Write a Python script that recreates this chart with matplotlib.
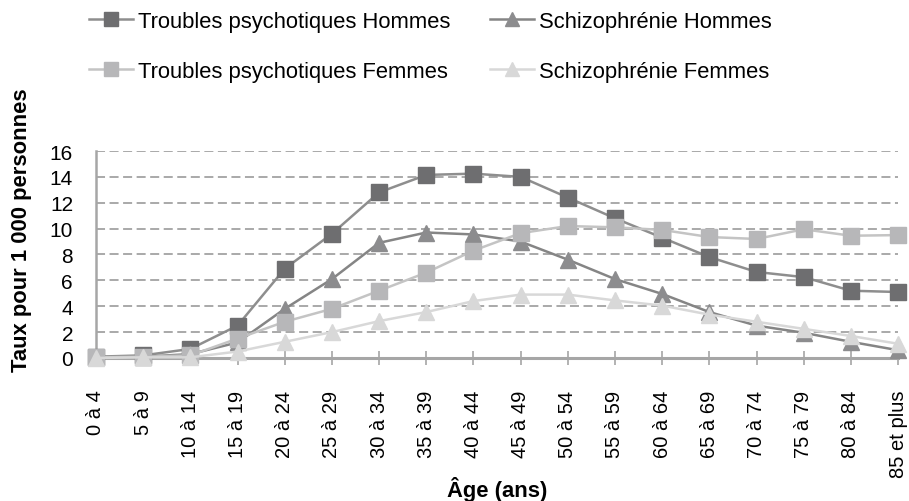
import matplotlib.pyplot as plt

plt.rcParams['font.family'] = ['Liberation Sans', 'DejaVu Sans']

# Age groups
ages = ['0 à 4', '5 à 9', '10 à 14', '15 à 19', '20 à 24', '25 à 29', '30 à 34',
        '35 à 39', '40 à 44', '45 à 49', '50 à 54', '55 à 59', '60 à 64',
        '65 à 69', '70 à 74', '75 à 79', '80 à 84', '85 et plus']

# Rates per 1 000 persons
troubles_hommes = [0.1, 0.2, 0.7, 2.5, 6.9, 9.6, 12.8, 14.15, 14.25, 14.0, 12.4,
                   10.8, 9.3, 7.8, 6.65, 6.25, 5.2, 5.1]
schizo_hommes = [0.05, 0.1, 0.3, 1.2, 3.8, 6.1, 8.9, 9.7, 9.55, 9.0, 7.6,
                 6.1, 4.95, 3.55, 2.5, 1.95, 1.25, 0.6]
troubles_femmes = [0.05, 0.1, 0.2, 1.5, 2.8, 3.8, 5.2, 6.6, 8.3, 9.65, 10.2,
                   10.1, 9.9, 9.35, 9.2, 9.95, 9.45, 9.5]
schizo_femmes = [0.0, 0.05, 0.05, 0.5, 1.25, 2.0, 2.85, 3.55, 4.4, 4.9, 4.9,
                 4.45, 4.05, 3.35, 2.8, 2.25, 1.7, 1.1]

x = list(range(len(ages)))

fig = plt.figure(figsize=(9.09, 5.02), dpi=100)
ax = fig.add_axes([0.1056, 0.2849, 0.8824, 0.4123])

l1, = ax.plot(x, troubles_hommes, color='#8e8e8e', lw=1.8, marker='s', ms=12,
              mfc='#6e6e70', mec='#6e6e70', clip_on=False, zorder=3)
l2, = ax.plot(x, schizo_hommes, color='#858585', lw=1.8, marker='^', ms=12,
              mfc='#8c8c8e', mec='#8c8c8e', clip_on=False, zorder=3)
l3, = ax.plot(x, troubles_femmes, color='#c4c4c4', lw=1.8, marker='s', ms=12,
              mfc='#b7b7b9', mec='#b7b7b9', clip_on=False, zorder=3)
l4, = ax.plot(x, schizo_femmes, color='#d8d8d8', lw=1.8, marker='^', ms=12,
              mfc='#d8d8d8', mec='#d8d8d8', clip_on=False, zorder=3)

ax.set_xlim(0, len(ages) - 1)
ax.set_ylim(0, 16)
ax.set_yticks(range(0, 17, 2))
ax.set_xticks(x)
ax.set_xticklabels(ages, rotation=90, ha='center', va='top')

ax.tick_params(axis='x', direction='inout', length=9.5, width=1.2, color='#a6a6a6',
               labelsize=14.5, pad=18)
ax.tick_params(axis='y', length=0, labelsize=15, pad=16.5)

ax.grid(axis='y', color='#a3a3a3', lw=1.3, linestyle=(0, (5, 2.5)))
ax.set_axisbelow(True)
for s in ['top', 'right']:
    ax.spines[s].set_visible(False)
ax.spines['left'].set_color('#a6a6a6')
ax.spines['left'].set_linewidth(1.8)
ax.spines['bottom'].set_color('#a6a6a6')
ax.spines['bottom'].set_linewidth(2.2)

fig.text(22 / 909, 1 - 230 / 502, 'Taux pour 1 000 personnes', rotation=90,
         ha='center', va='center', fontsize=15.8, fontweight='bold')
fig.text(497 / 909, 1 - 497 / 502, 'Âge (ans)', ha='center', va='baseline',
         fontsize=15.8, fontweight='bold')

fig.legend([l1, l3, l2, l4],
           ['Troubles psychotiques Hommes', 'Troubles psychotiques Femmes',
            'Schizophrénie Hommes', 'Schizophrénie Femmes'],
           ncol=2, loc='upper left', bbox_to_anchor=(89 / 909, 1 - 12 / 502),
           frameon=False, fontsize=15.8, handlelength=2.0, handletextpad=0.23,
           columnspacing=1.8, labelspacing=1.3, markerscale=0.85,
           borderpad=0, borderaxespad=0)

fig.savefig('out.png', dpi=100)
